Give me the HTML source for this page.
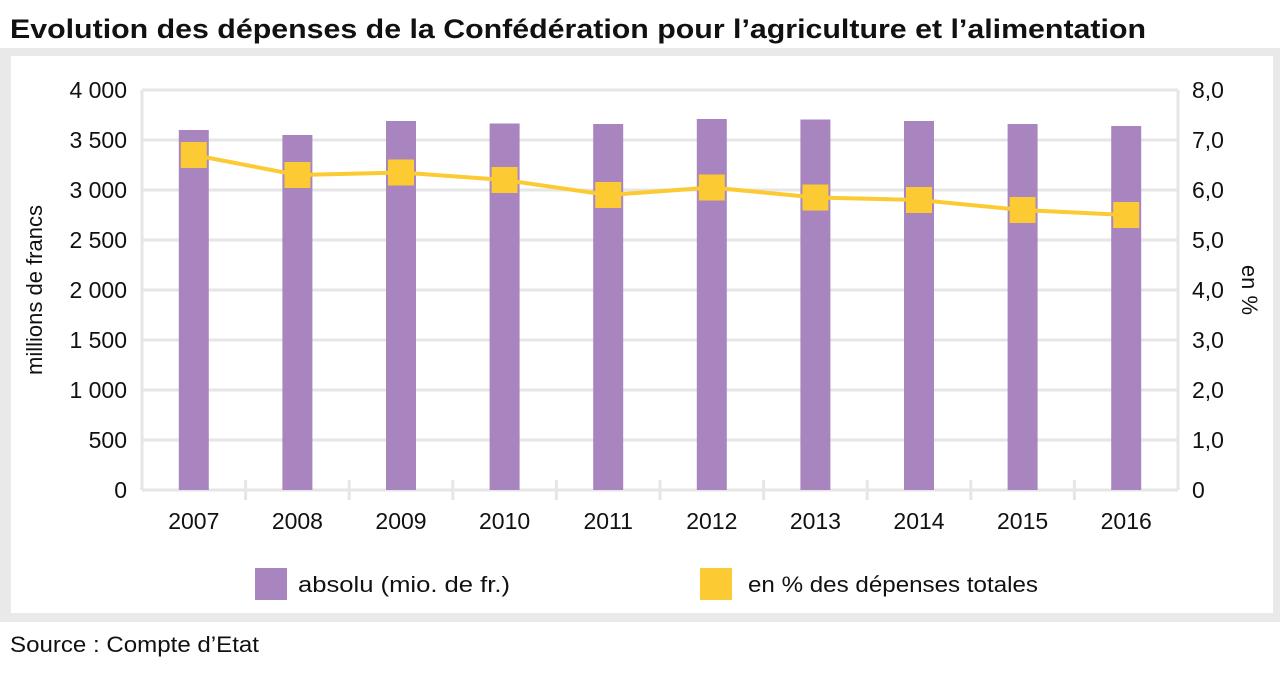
<!DOCTYPE html>
<html><head><meta charset="utf-8"><style>
body{margin:0;width:1280px;height:671px;background:#fff;font-family:"Liberation Sans",sans-serif;overflow:hidden}
svg text{font-family:"Liberation Sans",sans-serif}
</style></head><body>
<svg width="1280" height="671">
<text x="10" y="38" font-size="27" font-weight="bold" fill="#111" textLength="1136" lengthAdjust="spacingAndGlyphs">Evolution des dépenses de la Confédération pour l’agriculture et l’alimentation</text>
<rect x="0" y="48" width="1280" height="574" fill="#e9e9e9"/>
<rect x="11" y="56" width="1262" height="557" fill="#fff"/>
<g id="grid"></g><g id="bars"></g><g id="line"></g><g id="axes"></g>
<text transform="translate(42,290) rotate(-90)" text-anchor="middle" font-size="22" fill="#111">millions de francs</text>
<text transform="translate(1242,290) rotate(90)" text-anchor="middle" font-size="22" fill="#111">en %</text>
<rect x="255" y="568" width="32" height="32" fill="#a885bf"/>
<text x="298" y="592" font-size="22" fill="#111" textLength="212" lengthAdjust="spacingAndGlyphs">absolu (mio. de fr.)</text>
<rect x="700" y="568" width="32" height="32" fill="#fcca32"/>
<text x="748" y="592" font-size="22" fill="#111" textLength="290" lengthAdjust="spacingAndGlyphs">en % des dépenses totales</text>
<text x="10" y="652" font-size="22" fill="#111" textLength="249" lengthAdjust="spacingAndGlyphs">Source : Compte d’Etat</text>
</svg>
<script>
const years=["2007","2008","2009","2010","2011","2012","2013","2014","2015","2016"];
const absValues=[3600,3550,3690,3665,3660,3710,3705,3690,3660,3640];
const pctValues=[6.7,6.3,6.35,6.2,5.9,6.05,5.85,5.8,5.6,5.5];
const leftTicks=["0","500","1 000","1 500","2 000","2 500","3 000","3 500","4 000"];
const rightTicks=["0","1,0","2,0","3,0","4,0","5,0","6,0","7,0","8,0"];
const NS="http://www.w3.org/2000/svg";
const X0=142,X1=1178,Y0=490,Y1=90;
const band=(X1-X0)/years.length;
const xc=i=>X0+band*(i+0.5);
const yL=v=>Y0-(v/4000)*(Y0-Y1);
const yR=v=>Y0-(v/8)*(Y0-Y1);
function mk(tag,attrs,parent){const e=document.createElementNS(NS,tag);for(const k in attrs)e.setAttribute(k,attrs[k]);document.getElementById(parent).appendChild(e);return e;}
leftTicks.forEach((t,i)=>{
 const y=Y0-i*(Y0-Y1)/8;
 const g=mk('line',{x1:X0,x2:X1,y1:y,y2:y,stroke:'#e6e6e6','stroke-width':3},'grid');
 
 
 const a=mk('text',{x:127,y:y+8,'text-anchor':'end','font-size':23,fill:'#111'},'axes');a.textContent=t;
 
 
 const b=mk('text',{x:1192,y:y+8,'font-size':23,fill:'#111'},'axes');b.textContent=rightTicks[i];
 
 
});
[X0,X1].forEach(x=>{const l=mk('line',{x1:x,x2:x,y1:Y1,y2:Y0,stroke:'#e6e6e6','stroke-width':3},'grid');
 
 });
for(let i=1;i<years.length;i++){const l=mk('line',{x1:X0+band*i,x2:X0+band*i,y1:Y0-10,y2:Y0+10,stroke:'#e6e6e6','stroke-width':3},'grid');
 
 }
years.forEach((yr,i)=>{
 const r=mk('rect',{x:xc(i)-15,y:yL(absValues[i]),width:30,height:Y0-yL(absValues[i]),fill:'#a885bf'},'bars');
 
 
 const t=mk('text',{x:xc(i),y:529,'text-anchor':'middle','font-size':23,fill:'#111'},'axes');t.textContent=yr;
 
 
});
const pl=mk('polyline',{points:pctValues.map((v,i)=>xc(i)+','+yR(v)).join(' '),fill:'none',stroke:'#fcca32','stroke-width':4},'line');


pctValues.forEach((v,i)=>{const m=mk('rect',{x:xc(i)-13,y:yR(v)-13,width:26,height:26,fill:'#fcca32'},'line');
 
 });
</script>
</body></html>
